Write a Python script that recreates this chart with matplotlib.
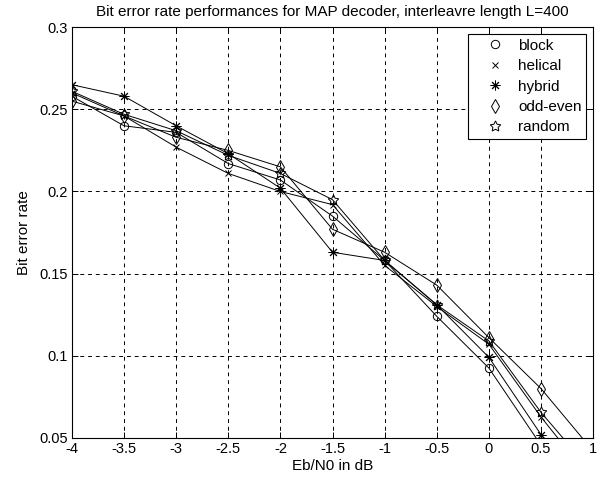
import matplotlib
matplotlib.use("Agg")
import matplotlib.pyplot as plt

plt.rcParams["font.family"] = ["Liberation Sans", "DejaVu Sans"]

ebn0 = [-4, -3.5, -3, -2.5, -2, -1.5, -1, -0.5, 0, 0.5, 1]

block = [0.258, 0.240, 0.236, 0.217, 0.207, 0.185, 0.158, 0.124, 0.0925, 0.0455, 0.000]
helical = [0.260, 0.246, 0.227, 0.211, 0.200, 0.192, 0.155, 0.130, 0.107, 0.0627, 0.023]
hybrid = [0.265, 0.258, 0.240, 0.223, 0.202, 0.163, 0.158, 0.131, 0.099, 0.052, 0.010]
odd_even = [0.255, 0.246, 0.233, 0.225, 0.215, 0.177, 0.163, 0.143, 0.111, 0.080, 0.042]
random_il = [0.261, 0.247, 0.237, 0.222, 0.211, 0.195, 0.158, 0.131, 0.109, 0.0655, 0.0285]

series = [
    ("block", block, "o", 6),
    ("helical", helical, "x", 4.5),
    ("hybrid", hybrid, (8, 2, 0), 7),
    ("odd-even", odd_even, "d", 7),
    ("random", random_il, (5, 1, 0), 8),
]

fig = plt.figure(figsize=(6.09, 4.86), dpi=100)
ax = fig.add_axes([0.118, 0.099, 0.856, 0.845])

for label, vals, marker, ms in series:
    ax.plot(ebn0, vals, color="black", linewidth=0.7, marker=marker,
            markersize=ms, markerfacecolor="none", markeredgecolor="black",
            markeredgewidth=0.7, label=label)

ax.set_xlim(-4, 1)
ax.set_ylim(0.05, 0.3)
ax.set_xticks([-4, -3.5, -3, -2.5, -2, -1.5, -1, -0.5, 0, 0.5, 1])
ax.set_xticklabels(["-4", "-3.5", "-3", "-2.5", "-2", "-1.5", "-1", "-0.5", "0", "0.5", "1"])
ax.set_yticks([0.05, 0.1, 0.15, 0.2, 0.25, 0.3])
ax.set_yticklabels(["0.05", "0.1", "0.15", "0.2", "0.25", "0.3"])
ax.grid(True, color="black", linestyle=(0, (4, 4)), linewidth=0.7)
ax.tick_params(direction="in", top=True, right=True, length=4, labelsize=10.5, width=0.7, pad=3)
for s in ax.spines.values():
    s.set_linewidth(0.8)

ax.set_xlabel("Eb/N0 in dB", fontsize=11, labelpad=2)
ax.set_ylabel("Bit error rate", fontsize=11, labelpad=6)
ax.set_title("Bit error rate performances for MAP decoder, interleavre length L=400",
             fontsize=11, pad=8)

leg = ax.legend(loc="upper right", bbox_to_anchor=(0.987, 0.983), fancybox=False,
                edgecolor="black", framealpha=1, fontsize=11, handlelength=2.9,
                handletextpad=0.1, borderpad=0.3, borderaxespad=0, labelspacing=0.42)
leg.get_frame().set_linewidth(0.8)
for h in leg.legend_handles:
    h.set_linestyle("none")

fig.savefig("out.png", dpi=100)
